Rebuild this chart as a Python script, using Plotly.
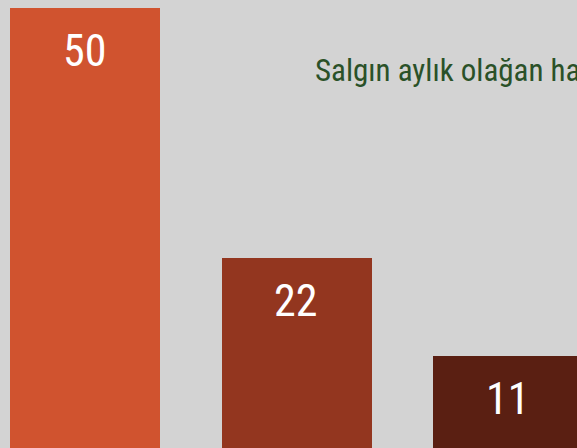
import plotly.graph_objects as go

# Data read from the (cropped) reference
categories = ["A", "B", "C"]
values = [50, 22, 11]
bar_colors = ["#d0532f", "#93361f", "#5a1f12"]
title_text = "Salgın aylık olağan ha"

FONT = "Roboto Condensed, DejaVu Sans Condensed, sans-serif"

fig = go.Figure()

fig.add_trace(go.Bar(
    x=categories,
    y=values,
    width=0.709,
    marker=dict(color=bar_colors, line=dict(width=0)),
    hoverinfo="skip",
))

# Value labels near the top of each bar
for cat, val in zip(categories, values):
    fig.add_annotation(
        x=cat,
        y=val,
        text=str(val),
        showarrow=False,
        yanchor="top",
        yshift=-15,
        xshift=-1,
        font=dict(family=FONT, size=44, color="white"),
    )

fig.add_annotation(
    x=313 / 577,
    y=1 - 71 / 448,
    xref="paper",
    yref="paper",
    xanchor="left",
    yanchor="middle",
    text=title_text,
    showarrow=False,
    font=dict(family=FONT, size=31, color="#2a5128"),
)

fig.update_layout(
    width=577,
    height=448,
    margin=dict(l=0, r=0, t=0, b=0),
    paper_bgcolor="#d3d3d3",
    plot_bgcolor="#d3d3d3",
    showlegend=False,
    bargap=0,
    xaxis=dict(visible=False, range=[-0.402, 2.326]),
    yaxis=dict(visible=False, range=[0.72, 50.9]),
)

fig.write_html(
    "out.html",
    config={"displayModeBar": False},
    post_script="document.body.style.margin='0';document.body.style.background='#d3d3d3';",
)
